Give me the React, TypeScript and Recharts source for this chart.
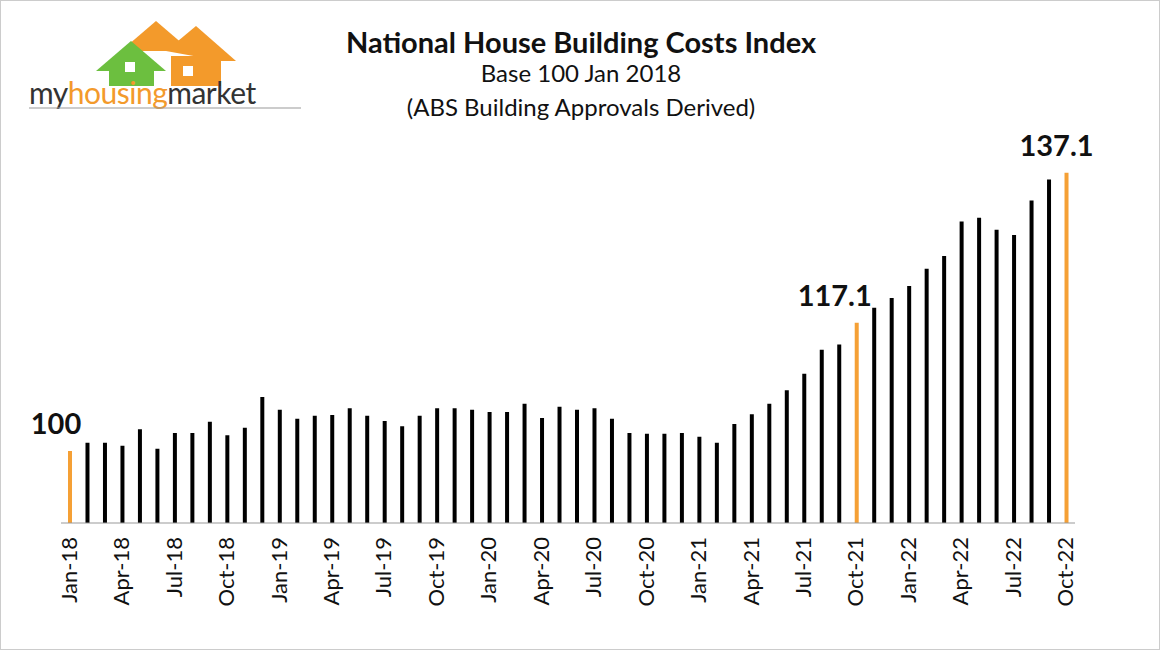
import React from "react";
import { BarChart, Bar, XAxis, YAxis, Cell, LabelList } from "recharts";

const months = ["Jan","Feb","Mar","Apr","May","Jun","Jul","Aug","Sep","Oct","Nov","Dec"];
const categories: string[] = [];
for (let y = 18; y <= 22; y++) for (const m of months) if (!(y === 22 && months.indexOf(m) > 9)) categories.push(`${m}-${y}`);

const values = [
  100, 101.1, 101.1, 100.7, 102.9, 100.3, 102.4, 102.4, 103.9, 102.1, 103.1, 107.2,
  105.5, 104.3, 104.7, 104.8, 105.7, 104.7, 104.0, 103.3, 104.7, 105.7, 105.7, 105.5,
  105.2, 105.2, 106.3, 104.4, 105.9, 105.5, 105.7, 104.3, 102.4, 102.3, 102.3, 102.4,
  101.9, 101.1, 103.6, 104.9, 106.3, 108.1, 110.3, 113.5, 114.2, 117.1, 119.1, 120.4,
  122.0, 124.3, 126.0, 130.6, 131.1, 129.5, 128.8, 133.4, 136.2, 137.1,
];
const highlighted = ["Jan-18", "Oct-21", "Oct-22"];
const labelText: Record<string, string> = { "Jan-18": "100", "Oct-21": "117.1", "Oct-22": "137.1" };
const tickLabels = categories.filter((_, i) => i % 3 === 0);

const data = categories.map((c, i) => ({ name: c, value: values[i] }));
const FONT = "Lato, 'Open Sans', sans-serif";

const Tick = (props: any) => {
  const { x, y, payload } = props;
  if (!tickLabels.includes(payload.value)) return null;
  return (
    <text x={x + 7} y={y + 6} transform={`rotate(-90 ${x + 7} ${y + 6})`} textAnchor="end" fontSize={22} fill="#111" fontFamily={FONT}>
      {payload.value}
    </text>
  );
};

const Lbl = (props: any) => {
  const { x, y, width, index } = props;
  const name = categories[index];
  const t = labelText[name];
  if (!t) return null;
  const dx = index === 0 ? -14 : index === 45 ? -22 : -10;
  return (
    <text x={x + width / 2 + dx} y={y - 17} textAnchor="middle" fontSize={29} fontWeight="bold" fill="#111" fontFamily={FONT}>
      {t}
    </text>
  );
};

export default function App() {
  return (
    <div style={{ position: "absolute", left: 0, top: 0, width: 1160, height: 650, background: "#fff", fontFamily: FONT, border: "1px solid #ccc", boxSizing: "border-box" }}>
      <svg style={{ position: "absolute", left: 20, top: 15 }} width={290} height={95}>
        <polygon points="100,35 135,5 170,35" fill="#f39a2b" />
        <polygon points="145,35 175,10 215,45 200,45" fill="#f39a2b" />
        <polygon points="75,55 110,25 145,55" fill="#6cbf3f" />
        <rect x={88} y={52} width={45} height={18} fill="#6cbf3f" />
        <rect x={150} y={40} width={50} height={30} fill="#f39a2b" />
        <rect x={104} y={46} width={10} height={10} fill="#fff" />
        <rect x={162} y={50} width={10} height={10} fill="#fff" />
        <text x={8} y={88} fontSize={30} fill="#333" fontFamily={FONT} letterSpacing={-0.5}>
          my<tspan fill="#f39a2b">housing</tspan>market
        </text>
        <line x1={8} y1={92} x2={280} y2={92} stroke="#999" strokeWidth={1} />
      </svg>
      <div style={{ position: "absolute", left: 0, width: 1160, top: 24, textAlign: "center", color: "#111", lineHeight: 1.2 }}>
        <div style={{ fontSize: 29, fontWeight: "bold", height: 34 }}>National House Building Costs Index</div>
        <div style={{ fontSize: 24, height: 34 }}>Base 100 Jan 2018</div>
        <div style={{ fontSize: 24 }}>(ABS Building Approvals Derived)</div>
      </div>
      <BarChart width={1160} height={650} data={data} margin={{ top: 150, right: 86, left: 60, bottom: 48 }} style={{ position: "absolute", left: 0, top: 0 }}>
        <YAxis hide domain={[90.4, 140]} allowDataOverflow />
        <XAxis dataKey="name" interval={0} height={80} tick={<Tick />} tickLine={false} axisLine={{ stroke: "#999" }} />
        <Bar dataKey="value" barSize={4} isAnimationActive={false}>
          {data.map((d) => (
            <Cell key={d.name} fill={highlighted.includes(d.name) ? "#f5a035" : "#000"} />
          ))}
          <LabelList dataKey="value" content={<Lbl />} />
        </Bar>
      </BarChart>
    </div>
  );
}
